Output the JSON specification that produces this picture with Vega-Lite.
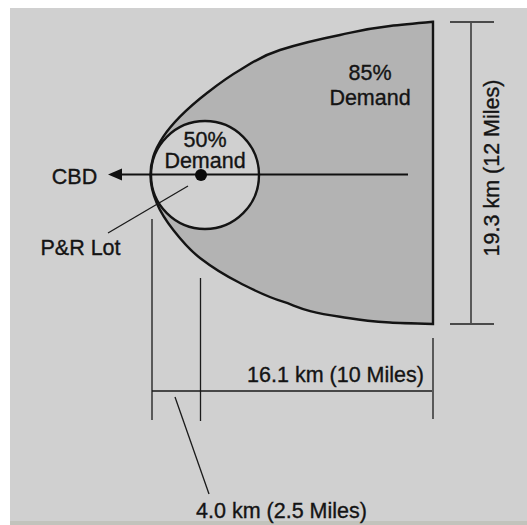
{
  "$schema": "https://vega.github.io/schema/vega-lite/v6.json",
  "autosize": {"type": "fit", "contains": "padding"},
  "width": 527,
  "height": 525,
  "padding": {"left": 10, "top": 8, "right": 0, "bottom": 0},
  "background": "#ffffff",
  "config": {"view": {"stroke": null, "fill": "#d0d0d0"}},
  "datasets": {
    "curve": [
      {"x": 433, "y": 21.8},
      {"x": 390, "y": 26},
      {"x": 340, "y": 35},
      {"x": 280, "y": 50},
      {"x": 240, "y": 70},
      {"x": 207, "y": 93},
      {"x": 180, "y": 116.7},
      {"x": 163.3, "y": 136.7},
      {"x": 153.3, "y": 156.7},
      {"x": 150.5, "y": 175},
      {"x": 156.7, "y": 203},
      {"x": 173.3, "y": 230},
      {"x": 200, "y": 258},
      {"x": 240, "y": 283},
      {"x": 283, "y": 301.7},
      {"x": 340, "y": 316.7},
      {"x": 390, "y": 322.5},
      {"x": 433, "y": 324}
    ],
    "lines": [
      {"kind": "dim", "x": 471, "y": 22, "x2": 471, "y2": 324},
      {"kind": "dim", "x": 152, "y": 391, "x2": 432, "y2": 391},
      {"kind": "dim", "x": 152, "y": 219, "x2": 152, "y2": 420},
      {"kind": "dim", "x": 200.5, "y": 278, "x2": 200.5, "y2": 421},
      {"kind": "dim", "x": 433, "y": 338, "x2": 433, "y2": 419},
      {"kind": "dim", "x": 175, "y": 397, "x2": 209, "y2": 494},
      {"kind": "dim", "x": 108, "y": 233, "x2": 188, "y2": 186},
      {"kind": "tick", "x": 450, "y": 22, "x2": 494, "y2": 22},
      {"kind": "tick", "x": 450, "y": 324, "x2": 494, "y2": 324},
      {"kind": "arrow", "x": 408, "y": 174.5, "x2": 118, "y2": 174.5}
    ],
    "points": [
      {"kind": "ring", "x": 205, "y": 175},
      {"kind": "dot", "x": 201, "y": 175},
      {"kind": "head", "x": 115, "y": 174.5}
    ],
    "labels": [
      {"text": "CBD", "x": 74.5, "y": 184},
      {"text": "P&R Lot", "x": 80.5, "y": 255},
      {"text": "50%", "x": 205, "y": 147},
      {"text": "Demand", "x": 205, "y": 168},
      {"text": "85%", "x": 370, "y": 80},
      {"text": "Demand", "x": 370, "y": 105},
      {"text": "16.1 km (10 Miles)", "x": 335.5, "y": 381.5},
      {"text": "4.0 km (2.5 Miles)", "x": 281.5, "y": 518}
    ],
    "vlabels": [
      {"text": "19.3 km (12 Miles)", "x": 499, "y": 168}
    ],
    "strip": [
      {"x": 10, "x2": 527, "y": 521, "y2": 525}
    ]
  },
  "layer": [
    {
      "data": {"name": "strip"},
      "mark": {"type": "rect", "color": "#c2c3bc"},
      "encoding": {
        "x": {"field": "x", "type": "quantitative", "scale": {"domain": [10, 527], "nice": false, "zero": false}, "axis": null},
        "x2": {"field": "x2"},
        "y": {"field": "y", "type": "quantitative", "scale": {"domain": [8, 525], "nice": false, "zero": false, "reverse": true}, "axis": null},
        "y2": {"field": "y2"}
      }
    },
    {
      "data": {"name": "curve"},
      "mark": {"type": "area", "orient": "horizontal", "interpolate": "monotone", "color": "#b3b3b3"},
      "encoding": {
        "x": {"field": "x", "type": "quantitative", "scale": {"domain": [10, 527], "nice": false, "zero": false}, "axis": null},
        "x2": {"datum": 433},
        "y": {"field": "y", "type": "quantitative", "scale": {"domain": [8, 525], "nice": false, "zero": false, "reverse": true}, "axis": null}
      }
    },
    {
      "data": {"name": "points"},
      "transform": [{"filter": "datum.kind === 'ring'"}],
      "mark": {"type": "point", "shape": "circle", "filled": true, "color": "#d0d0d0", "opacity": 1, "size": 11664},
      "encoding": {
        "x": {"field": "x", "type": "quantitative", "scale": {"domain": [10, 527], "nice": false, "zero": false}, "axis": null},
        "y": {"field": "y", "type": "quantitative", "scale": {"domain": [8, 525], "nice": false, "zero": false, "reverse": true}, "axis": null}
      }
    },
    {
      "data": {"name": "curve"},
      "mark": {"type": "area", "orient": "horizontal", "interpolate": "monotone", "fill": "#b3b3b3", "fillOpacity": 0, "stroke": "#141414", "strokeWidth": 2.4},
      "encoding": {
        "x": {"field": "x", "type": "quantitative", "scale": {"domain": [10, 527], "nice": false, "zero": false}, "axis": null},
        "x2": {"datum": 433},
        "y": {"field": "y", "type": "quantitative", "scale": {"domain": [8, 525], "nice": false, "zero": false, "reverse": true}, "axis": null}
      }
    },
    {
      "data": {"name": "points"},
      "transform": [{"filter": "datum.kind === 'ring'"}],
      "mark": {"type": "point", "shape": "circle", "filled": false, "stroke": "#141414", "strokeWidth": 2.4, "opacity": 1, "size": 11664},
      "encoding": {
        "x": {"field": "x", "type": "quantitative", "scale": {"domain": [10, 527], "nice": false, "zero": false}, "axis": null},
        "y": {"field": "y", "type": "quantitative", "scale": {"domain": [8, 525], "nice": false, "zero": false, "reverse": true}, "axis": null}
      }
    },
    {
      "data": {"name": "lines"},
      "transform": [{"filter": "datum.kind === 'dim'"}],
      "mark": {"type": "rule", "color": "#1a1a1a", "strokeWidth": 1.3},
      "encoding": {
        "x": {"field": "x", "type": "quantitative", "scale": {"domain": [10, 527], "nice": false, "zero": false}, "axis": null},
        "x2": {"field": "x2"},
        "y": {"field": "y", "type": "quantitative", "scale": {"domain": [8, 525], "nice": false, "zero": false, "reverse": true}, "axis": null},
        "y2": {"field": "y2"}
      }
    },
    {
      "data": {"name": "lines"},
      "transform": [{"filter": "datum.kind === 'tick'"}],
      "mark": {"type": "rule", "color": "#4a4a4a", "strokeWidth": 2},
      "encoding": {
        "x": {"field": "x", "type": "quantitative", "scale": {"domain": [10, 527], "nice": false, "zero": false}, "axis": null},
        "x2": {"field": "x2"},
        "y": {"field": "y", "type": "quantitative", "scale": {"domain": [8, 525], "nice": false, "zero": false, "reverse": true}, "axis": null},
        "y2": {"field": "y2"}
      }
    },
    {
      "data": {"name": "lines"},
      "transform": [{"filter": "datum.kind === 'arrow'"}],
      "mark": {"type": "rule", "color": "#111111", "strokeWidth": 2.2},
      "encoding": {
        "x": {"field": "x", "type": "quantitative", "scale": {"domain": [10, 527], "nice": false, "zero": false}, "axis": null},
        "x2": {"field": "x2"},
        "y": {"field": "y", "type": "quantitative", "scale": {"domain": [8, 525], "nice": false, "zero": false, "reverse": true}, "axis": null},
        "y2": {"field": "y2"}
      }
    },
    {
      "data": {"name": "points"},
      "transform": [{"filter": "datum.kind === 'head'"}],
      "mark": {"type": "point", "shape": "M -1 0 L 1 -0.85 L 1 0.85 Z", "filled": true, "color": "#111111", "opacity": 1, "size": 196},
      "encoding": {
        "x": {"field": "x", "type": "quantitative", "scale": {"domain": [10, 527], "nice": false, "zero": false}, "axis": null},
        "y": {"field": "y", "type": "quantitative", "scale": {"domain": [8, 525], "nice": false, "zero": false, "reverse": true}, "axis": null}
      }
    },
    {
      "data": {"name": "points"},
      "transform": [{"filter": "datum.kind === 'dot'"}],
      "mark": {"type": "point", "shape": "circle", "filled": true, "color": "#0a0a0a", "opacity": 1, "size": 144},
      "encoding": {
        "x": {"field": "x", "type": "quantitative", "scale": {"domain": [10, 527], "nice": false, "zero": false}, "axis": null},
        "y": {"field": "y", "type": "quantitative", "scale": {"domain": [8, 525], "nice": false, "zero": false, "reverse": true}, "axis": null}
      }
    },
    {
      "data": {"name": "labels"},
      "mark": {"type": "text", "font": "Liberation Sans", "fontSize": 21.5, "color": "#141414", "stroke": "#141414", "strokeWidth": 0.35, "align": "center", "baseline": "alphabetic"},
      "encoding": {
        "x": {"field": "x", "type": "quantitative", "scale": {"domain": [10, 527], "nice": false, "zero": false}, "axis": null},
        "y": {"field": "y", "type": "quantitative", "scale": {"domain": [8, 525], "nice": false, "zero": false, "reverse": true}, "axis": null},
        "text": {"field": "text"}
      }
    },
    {
      "data": {"name": "vlabels"},
      "mark": {"type": "text", "font": "Liberation Sans", "fontSize": 21.5, "color": "#141414", "stroke": "#141414", "strokeWidth": 0.35, "align": "center", "baseline": "alphabetic", "angle": 270},
      "encoding": {
        "x": {"field": "x", "type": "quantitative", "scale": {"domain": [10, 527], "nice": false, "zero": false}, "axis": null},
        "y": {"field": "y", "type": "quantitative", "scale": {"domain": [8, 525], "nice": false, "zero": false, "reverse": true}, "axis": null},
        "text": {"field": "text"}
      }
    }
  ]
}
